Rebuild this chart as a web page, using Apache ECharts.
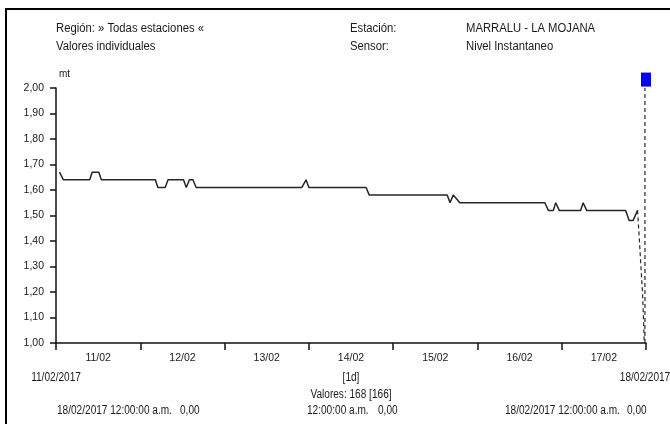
<!DOCTYPE html>
<html>
<head>
<meta charset="utf-8">
<script src="https://cdn.jsdelivr.net/npm/echarts@6/dist/echarts.min.js"></script>
<style>
html,body{margin:0;padding:0;background:#fff;}
#chart{width:670px;height:424px;}
</style>
</head>
<body>
<div id="chart"></div>
<script>
// hours since 11/02/2017 00:00 and level (mt)
const levelHours = [1, 2.1, 9.6, 10.3, 12.2, 12.9, 28.3, 29.0, 31.1, 31.9, 36.3, 37.1, 38.0, 39.0, 39.9, 70.0, 71.2, 72.0, 88.3, 89.2, 111.4, 112.2, 113.1, 115.0, 139.2, 140.2, 141.6, 142.3, 143.3, 149.4, 150.1, 151.1, 162.2, 163.2, 164.3, 165.6];
const levelValues = [1.67, 1.64, 1.64, 1.67, 1.67, 1.64, 1.64, 1.61, 1.61, 1.64, 1.64, 1.61, 1.64, 1.64, 1.61, 1.61, 1.64, 1.61, 1.61, 1.58, 1.58, 1.55, 1.58, 1.55, 1.55, 1.52, 1.52, 1.55, 1.52, 1.52, 1.55, 1.52, 1.52, 1.48, 1.48, 1.52];
const dropHours = [165.6, 167.0, 167.4, 167.5];
const dropValues = [1.52, 1.20, 1.05, 1.00];
const cursorHours = [167.7, 167.7];
const cursorValues = [1.00, 2.00];
const markerHour = 168;
const markerValue = 2.033;
const dayLabels = ['11/02', '12/02', '13/02', '14/02', '15/02', '16/02', '17/02'];
const yMin = 1.0, yMax = 2.0, yStep = 0.1;

const FONT = "'Liberation Sans Narrow', 'Liberation Sans', Arial, sans-serif";
const chart = echarts.init(document.getElementById('chart'), null, {renderer: 'canvas'});

function pairs(xs, ys) { return xs.map((x, i) => [x, ys[i]]); }

const txt = (x, y, s, align, sx) => ({
  type: 'text', x: x, y: y, scaleX: sx || 0.84, scaleY: 1,
  style: {text: s, fill: '#1a1a1a', font: '12px ' + FONT, textAlign: align || 'left', textVerticalAlign: 'middle'}
});

chart.setOption({
  animation: false,
  backgroundColor: '#fff',
  grid: {left: 56, right: 24, top: 88, bottom: 81, containLabel: false},
  xAxis: [
    {
      type: 'value', min: 0, max: 168, interval: 24,
      axisLine: {show: true, lineStyle: {color: '#111', width: 1.5}},
      axisTick: {show: true, length: 7, lineStyle: {color: '#111', width: 1.5}},
      axisLabel: {show: false},
      splitLine: {show: false}
    },
    {
      type: 'category', data: dayLabels, boundaryGap: true, position: 'bottom',
      axisLine: {show: false}, axisTick: {show: false},
      axisLabel: {show: true, margin: 10, color: '#1a1a1a', fontSize: 10.5, fontFamily: FONT},
      splitLine: {show: false}
    }
  ],
  yAxis: {
    type: 'value', min: yMin, max: yMax, interval: yStep,
    name: 'mt', nameLocation: 'end', nameGap: 9,
    nameTextStyle: {color: '#1a1a1a', fontSize: 10, fontFamily: FONT, align: 'left', padding: [0, 0, 0, 3]},
    axisLine: {show: true, lineStyle: {color: '#111', width: 1.5}},
    axisTick: {show: true, length: 6, lineStyle: {color: '#111', width: 1.5}},
    axisLabel: {
      margin: 12, color: '#1a1a1a', fontSize: 10.5, fontFamily: FONT,
      formatter: v => v.toFixed(2).replace('.', ',')
    },
    splitLine: {show: false}
  },
  series: [
    {
      type: 'line', xAxisIndex: 0, data: pairs(levelHours, levelValues),
      showSymbol: false, symbol: 'none',
      lineStyle: {color: '#262626', width: 1.5}
    },
    {
      type: 'line', xAxisIndex: 0, data: pairs(dropHours, dropValues),
      showSymbol: false, symbol: 'none',
      lineStyle: {color: '#262626', width: 1.2, type: [4, 3]}
    },
    {
      type: 'line', xAxisIndex: 0, data: pairs(cursorHours, cursorValues),
      showSymbol: false, symbol: 'none',
      lineStyle: {color: '#262626', width: 1.2, type: [4, 3]}
    },
    {
      type: 'scatter', xAxisIndex: 0, data: [[markerHour, markerValue]],
      symbol: 'rect', symbolSize: [10, 14], clip: false,
      itemStyle: {color: '#0000ff', opacity: 1}
    }
  ],
  graphic: [
    {
      type: 'rect', shape: {x: 6, y: 9, width: 680, height: 430},
      style: {fill: 'none', stroke: '#000', lineWidth: 2}, silent: true
    },
    txt(56, 29, 'Región: » Todas estaciones «', 'left', 0.94),
    txt(56, 47, 'Valores individuales', 'left', 0.94),
    txt(350, 29, 'Estación:', 'left', 0.94),
    txt(350, 47, 'Sensor:', 'left', 0.94),
    txt(466, 29, 'MARRALU - LA MOJANA', 'left', 0.94),
    txt(466, 47, 'Nivel Instantaneo', 'left', 0.94),
    txt(56, 378, '11/02/2017', 'center'),
    txt(645, 378, '18/02/2017', 'center'),
    txt(351, 378, '[1d]', 'center'),
    txt(351, 395, 'Valores: 168 [166]', 'center'),
    txt(57, 411, '18/02/2017 12:00:00 a.m.'),
    txt(180, 411, '0,00'),
    txt(307, 411, '12:00:00 a.m.'),
    txt(378, 411, '0,00'),
    txt(505, 411, '18/02/2017 12:00:00 a.m.'),
    txt(627, 411, '0,00')
  ]
});
</script>
</body>
</html>
